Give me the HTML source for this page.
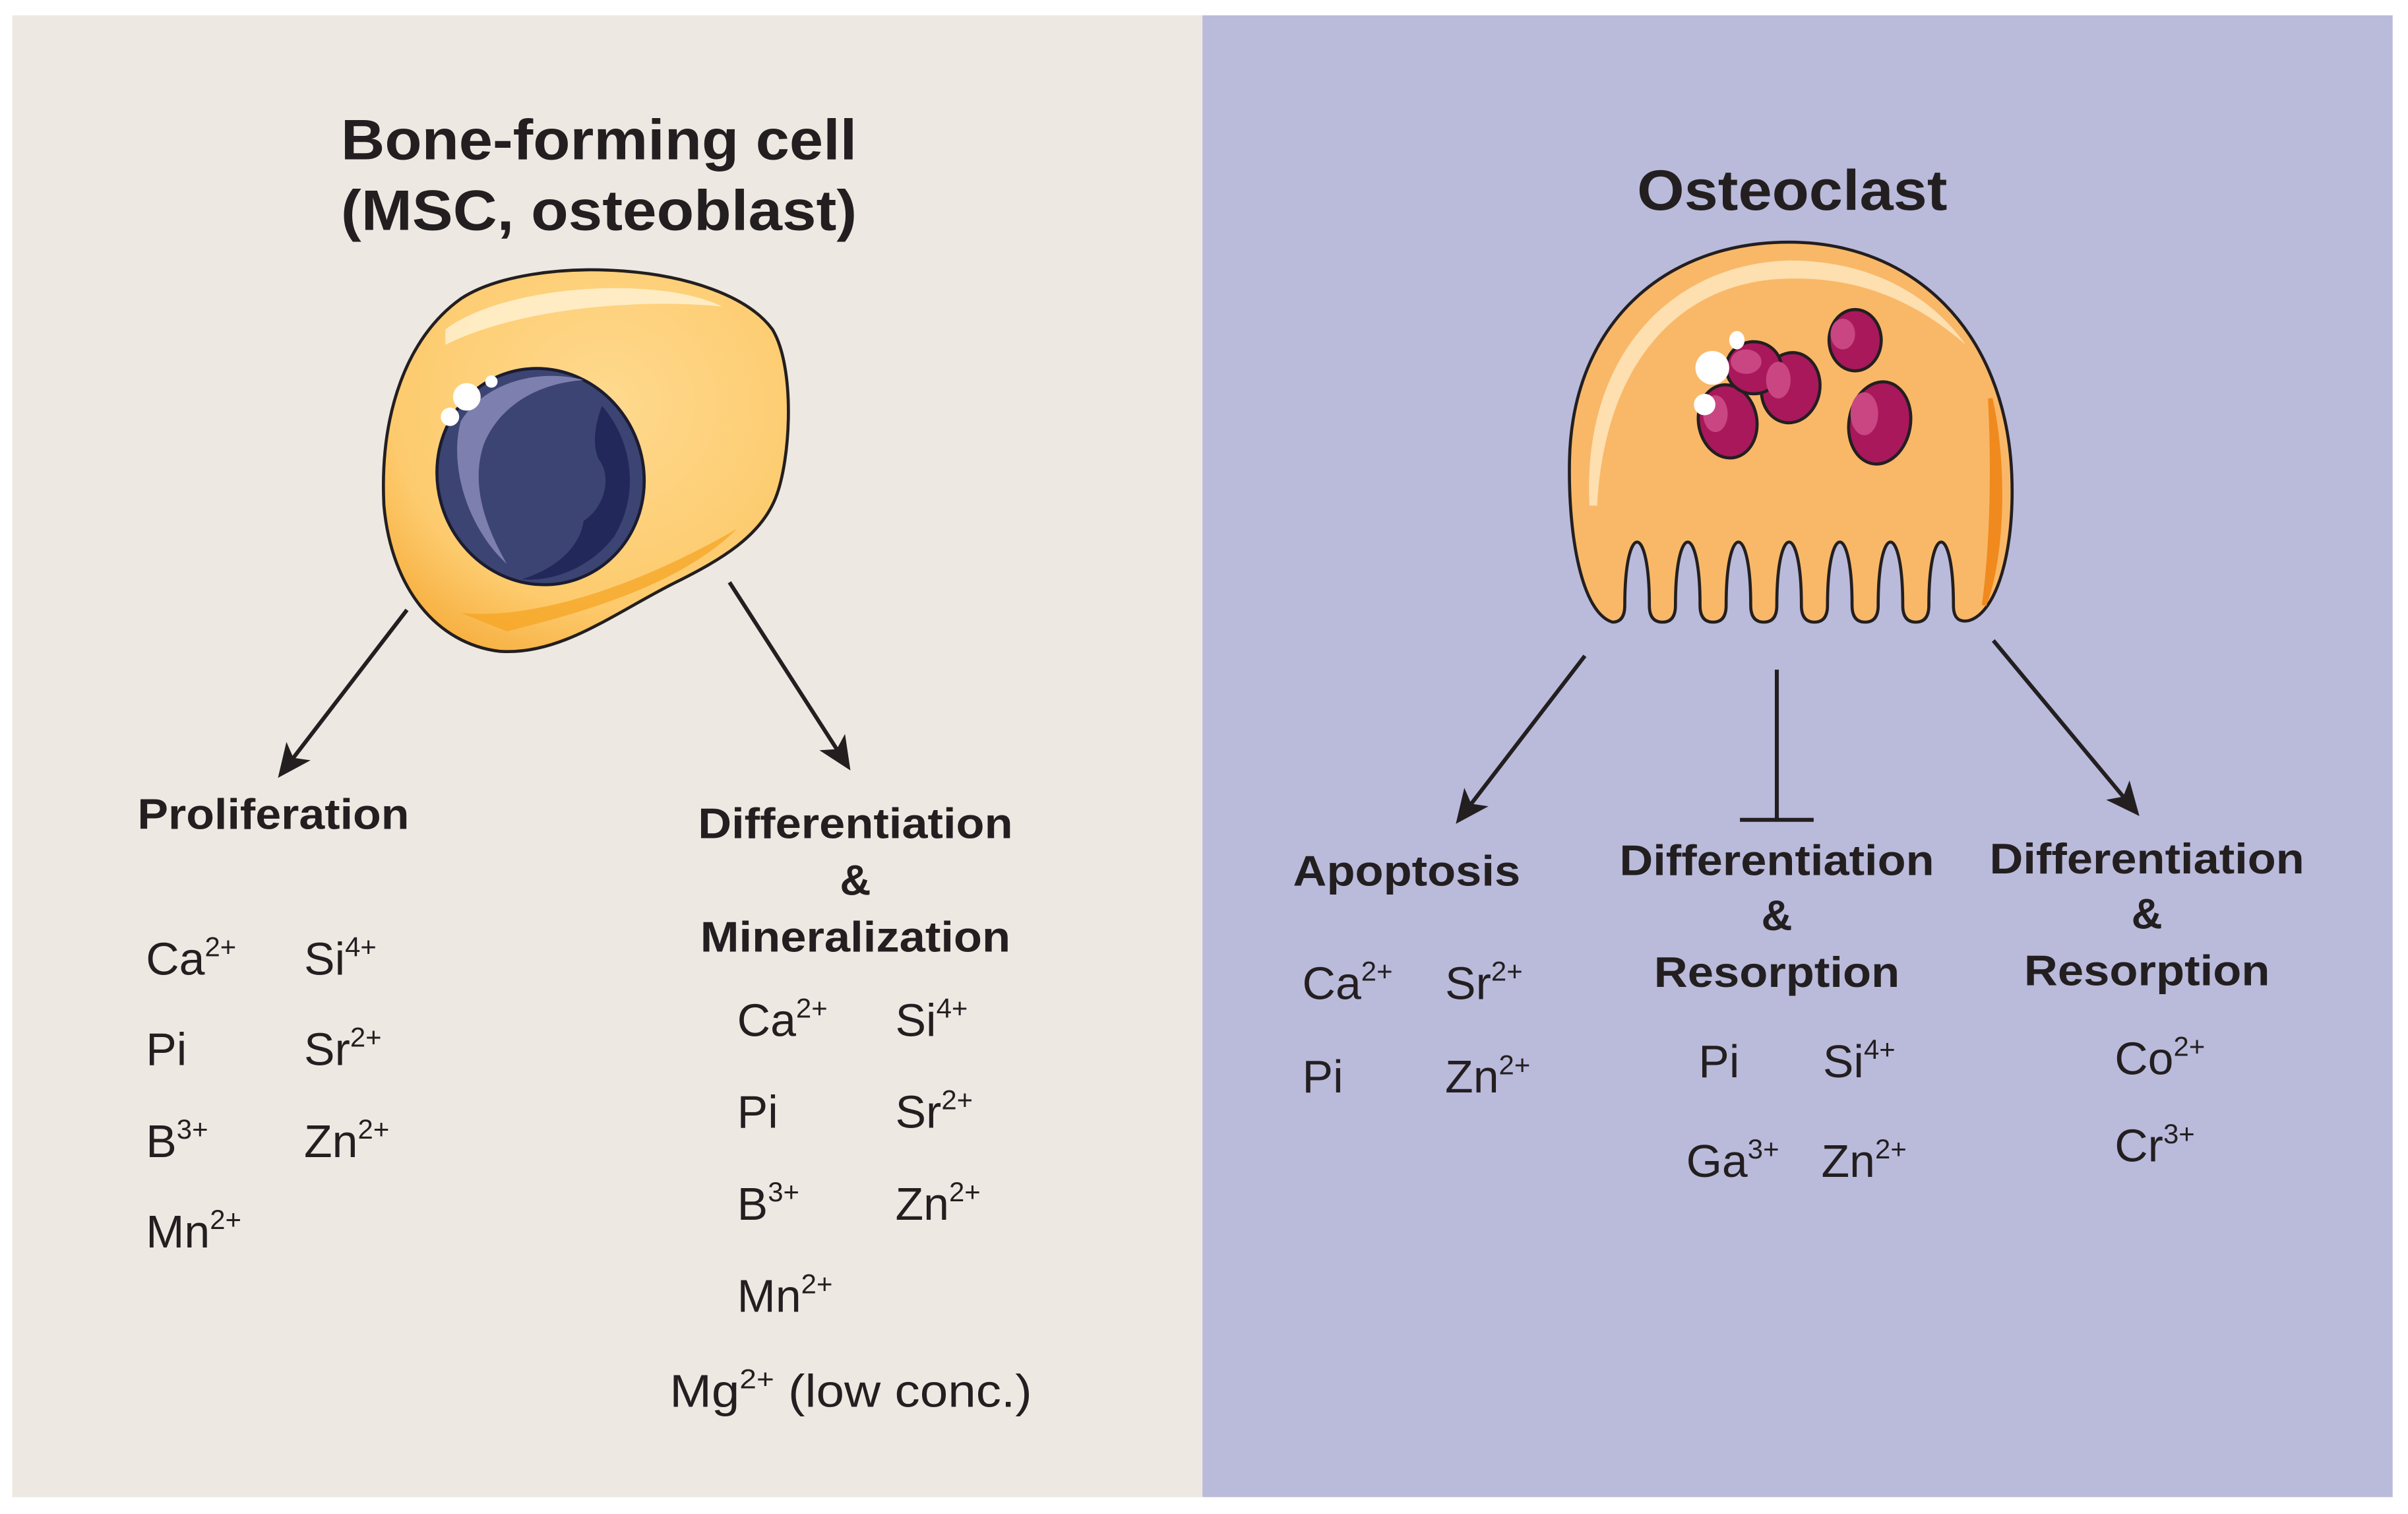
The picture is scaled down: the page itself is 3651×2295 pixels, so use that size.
<!DOCTYPE html>
<html><head><meta charset="utf-8"><style>
html,body{margin:0;padding:0;background:#fff;}
svg{display:block;}
text{font-family:"Liberation Sans",Arial,sans-serif;fill:#231f20;}
.t{font-weight:bold;font-size:37px;}
.h{font-weight:bold;font-size:28px;text-anchor:middle;}
.i{font-size:30px;}
.s{font-size:18px;}
</style></head><body>
<svg width="3651" height="2295" viewBox="0 0 1568 988" preserveAspectRatio="none" xmlns="http://www.w3.org/2000/svg">
<defs>
<marker id="ah" viewBox="0 0 20 20" refX="17" refY="10" markerWidth="26" markerHeight="22" markerUnits="userSpaceOnUse" orient="auto">
<path d="M0,1 L20,10 L0,19 L5,10 Z" fill="#231f20"/>
</marker>
<radialGradient id="cg" cx="0.55" cy="0.35" r="0.75">
<stop offset="0" stop-color="#fed98e"/><stop offset="0.7" stop-color="#fdcb6e"/><stop offset="1" stop-color="#f6ac3a"/>
</radialGradient>
</defs>
<rect x="0" y="0" width="1568" height="988" fill="#fff"/>
<rect x="8" y="10" width="775" height="967" fill="#ede8e2"/>
<rect x="783" y="10" width="775" height="967" fill="#babadb"/>

<text class="t" x="390" y="104" text-anchor="middle" textLength="336" lengthAdjust="spacingAndGlyphs">Bone-forming cell</text>
<text class="t" x="390" y="150" text-anchor="middle" textLength="336" lengthAdjust="spacingAndGlyphs">(MSC, osteoblast)</text>
<text class="t" x="1167" y="137" text-anchor="middle" textLength="202" lengthAdjust="spacingAndGlyphs">Osteoclast</text>

<path d="M300,195 C345,165 470,170 503,215 C518,240 515,300 505,325 C495,350 470,365 440,380 C400,400 365,428 325,425 C285,420 255,385 250,330 C247,270 265,220 300,195 Z" fill="url(#cg)" stroke="#231f20" stroke-width="2"/>
<path d="M290,215 C330,185 430,180 470,200 C420,195 340,200 290,225 Z" fill="#fff3d6" opacity="0.8"/>
<path d="M300,400 C350,405 420,380 480,345 C450,375 400,395 330,412 Z" fill="#f5a21f" opacity="0.7"/>
<ellipse cx="352" cy="311" rx="67" ry="71" transform="rotate(-20 352 311)" fill="#3b4472" stroke="#1c1c30" stroke-width="2"/>
<path d="M300,275 C315,250 350,240 380,248 C350,250 325,265 315,290 C305,320 320,350 330,368 C305,345 292,305 300,275 Z" fill="#7d7fae"/>
<path d="M392,265 C410,285 418,320 400,350 C385,370 360,380 340,378 C365,370 378,355 380,340 C395,330 398,310 390,300 C385,290 388,275 392,265 Z" fill="#23285a"/>
<circle cx="304" cy="259" r="9" fill="#fff"/>
<circle cx="293" cy="272" r="6" fill="#fff"/>
<circle cx="320" cy="249" r="4" fill="#fff"/>

<path d="M1050,406 C1030,400 1021,350 1022,300 C1024,210 1085,158 1165,158 C1245,158 1306,215 1310,310 C1312,360 1300,400 1282,405 Q1272,407 1272,395 C1272,340 1256,340 1256,395 Q1256,406 1247.5,406 Q1239,406 1239,395 C1239,340 1223,340 1223,395 Q1223,406 1214.5,406 Q1206,406 1206,395 C1206,340 1190,340 1190,395 Q1190,406 1181.5,406 Q1173,406 1173,395 C1173,340 1157,340 1157,395 Q1157,406 1148.5,406 Q1140,406 1140,395 C1140,340 1124,340 1124,395 Q1124,406 1115.5,406 Q1107,406 1107,395 C1107,340 1091,340 1091,395 Q1091,406 1082.5,406 Q1074,406 1074,395 C1074,340 1058,340 1058,395 Q1058,406 1050,406 Z" fill="#f9b868" stroke="#231f20" stroke-width="2"/>
<path d="M1035,330 C1030,230 1090,172 1165,170 C1215,170 1255,190 1280,225 C1240,190 1200,180 1160,182 C1095,185 1045,235 1040,330 Z" fill="#fde3b8" opacity="0.9"/>
<path d="M1296,260 C1305,300 1305,360 1292,395 C1298,350 1298,300 1296,260 Z" fill="#f08a1e" stroke="#f08a1e" stroke-width="3"/>
<g stroke="#231f20" stroke-width="2" fill="#a8185a">
<ellipse cx="1125" cy="275" rx="19" ry="24" transform="rotate(-10 1125 275)"/>
<ellipse cx="1166" cy="253" rx="19" ry="23" transform="rotate(10 1166 253)"/>
<ellipse cx="1142" cy="240" rx="18" ry="17"/>
<ellipse cx="1208" cy="222" rx="17" ry="20"/>
<ellipse cx="1224" cy="276" rx="20" ry="27" transform="rotate(10 1224 276)"/>
</g>
<g fill="#c94682">
<ellipse cx="1137" cy="236" rx="10" ry="8"/>
<ellipse cx="1200" cy="218" rx="8" ry="10"/>
<ellipse cx="1214" cy="270" rx="9" ry="14"/>
<ellipse cx="1158" cy="248" rx="8" ry="12"/>
<ellipse cx="1117" cy="270" rx="8" ry="12"/>
</g>
<circle cx="1115" cy="240" r="11" fill="#fff"/>
<circle cx="1110" cy="264" r="7" fill="#fff"/>
<ellipse cx="1131" cy="222" rx="5" ry="6" fill="#fff"/>

<g stroke="#231f20" stroke-width="2.6" fill="none">
<line x1="265" y1="398" x2="183" y2="505" marker-end="url(#ah)"/>
<line x1="475" y1="380" x2="552" y2="500" marker-end="url(#ah)"/>
<line x1="1032" y1="428" x2="950" y2="535" marker-end="url(#ah)"/>
<line x1="1298" y1="418" x2="1391" y2="530" marker-end="url(#ah)"/>
<line x1="1157" y1="437" x2="1157" y2="535"/>
<line x1="1133" y1="535" x2="1181" y2="535"/>
</g>

<text class="h" x="178" y="541" textLength="177" lengthAdjust="spacingAndGlyphs">Proliferation</text>
<text class="h" x="557" y="547" textLength="205" lengthAdjust="spacingAndGlyphs">Differentiation</text>
<text class="h" x="557" y="584">&amp;</text>
<text class="h" x="557" y="621" textLength="202" lengthAdjust="spacingAndGlyphs">Mineralization</text>
<text class="h" x="916" y="578" textLength="148" lengthAdjust="spacingAndGlyphs">Apoptosis</text>
<text class="h" x="1157" y="571" textLength="205" lengthAdjust="spacingAndGlyphs">Differentiation</text>
<text class="h" x="1157" y="607">&amp;</text>
<text class="h" x="1157" y="644" textLength="160" lengthAdjust="spacingAndGlyphs">Resorption</text>
<text class="h" x="1398" y="570" textLength="205" lengthAdjust="spacingAndGlyphs">Differentiation</text>
<text class="h" x="1398" y="606">&amp;</text>
<text class="h" x="1398" y="643" textLength="160" lengthAdjust="spacingAndGlyphs">Resorption</text>

<g>
<text class="i" x="95" y="636">Ca<tspan class="s" dy="-12">2+</tspan></text>
<text class="i" x="198" y="636">Si<tspan class="s" dy="-12">4+</tspan></text>
<text class="i" x="95" y="695">Pi</text>
<text class="i" x="198" y="695">Sr<tspan class="s" dy="-12">2+</tspan></text>
<text class="i" x="95" y="755">B<tspan class="s" dy="-12">3+</tspan></text>
<text class="i" x="198" y="755">Zn<tspan class="s" dy="-12">2+</tspan></text>
<text class="i" x="95" y="814">Mn<tspan class="s" dy="-12">2+</tspan></text>

<text class="i" x="480" y="676">Ca<tspan class="s" dy="-12">2+</tspan></text>
<text class="i" x="583" y="676">Si<tspan class="s" dy="-12">4+</tspan></text>
<text class="i" x="480" y="736">Pi</text>
<text class="i" x="583" y="736">Sr<tspan class="s" dy="-12">2+</tspan></text>
<text class="i" x="480" y="796">B<tspan class="s" dy="-12">3+</tspan></text>
<text class="i" x="583" y="796">Zn<tspan class="s" dy="-12">2+</tspan></text>
<text class="i" x="480" y="856">Mn<tspan class="s" dy="-12">2+</tspan></text>
<text class="i" x="436" y="918" textLength="236" lengthAdjust="spacingAndGlyphs">Mg<tspan class="s" dy="-12">2+</tspan><tspan dy="12"> (low conc.)</tspan></text>

<text class="i" x="848" y="652">Ca<tspan class="s" dy="-12">2+</tspan></text>
<text class="i" x="941" y="652">Sr<tspan class="s" dy="-12">2+</tspan></text>
<text class="i" x="848" y="713">Pi</text>
<text class="i" x="941" y="713">Zn<tspan class="s" dy="-12">2+</tspan></text>

<text class="i" x="1106" y="703">Pi</text>
<text class="i" x="1187" y="703">Si<tspan class="s" dy="-12">4+</tspan></text>
<text class="i" x="1098" y="768">Ga<tspan class="s" dy="-12">3+</tspan></text>
<text class="i" x="1186" y="768">Zn<tspan class="s" dy="-12">2+</tspan></text>

<text class="i" x="1377" y="701">Co<tspan class="s" dy="-12">2+</tspan></text>
<text class="i" x="1377" y="758">Cr<tspan class="s" dy="-12">3+</tspan></text>
</g>
</svg>
</body></html>
